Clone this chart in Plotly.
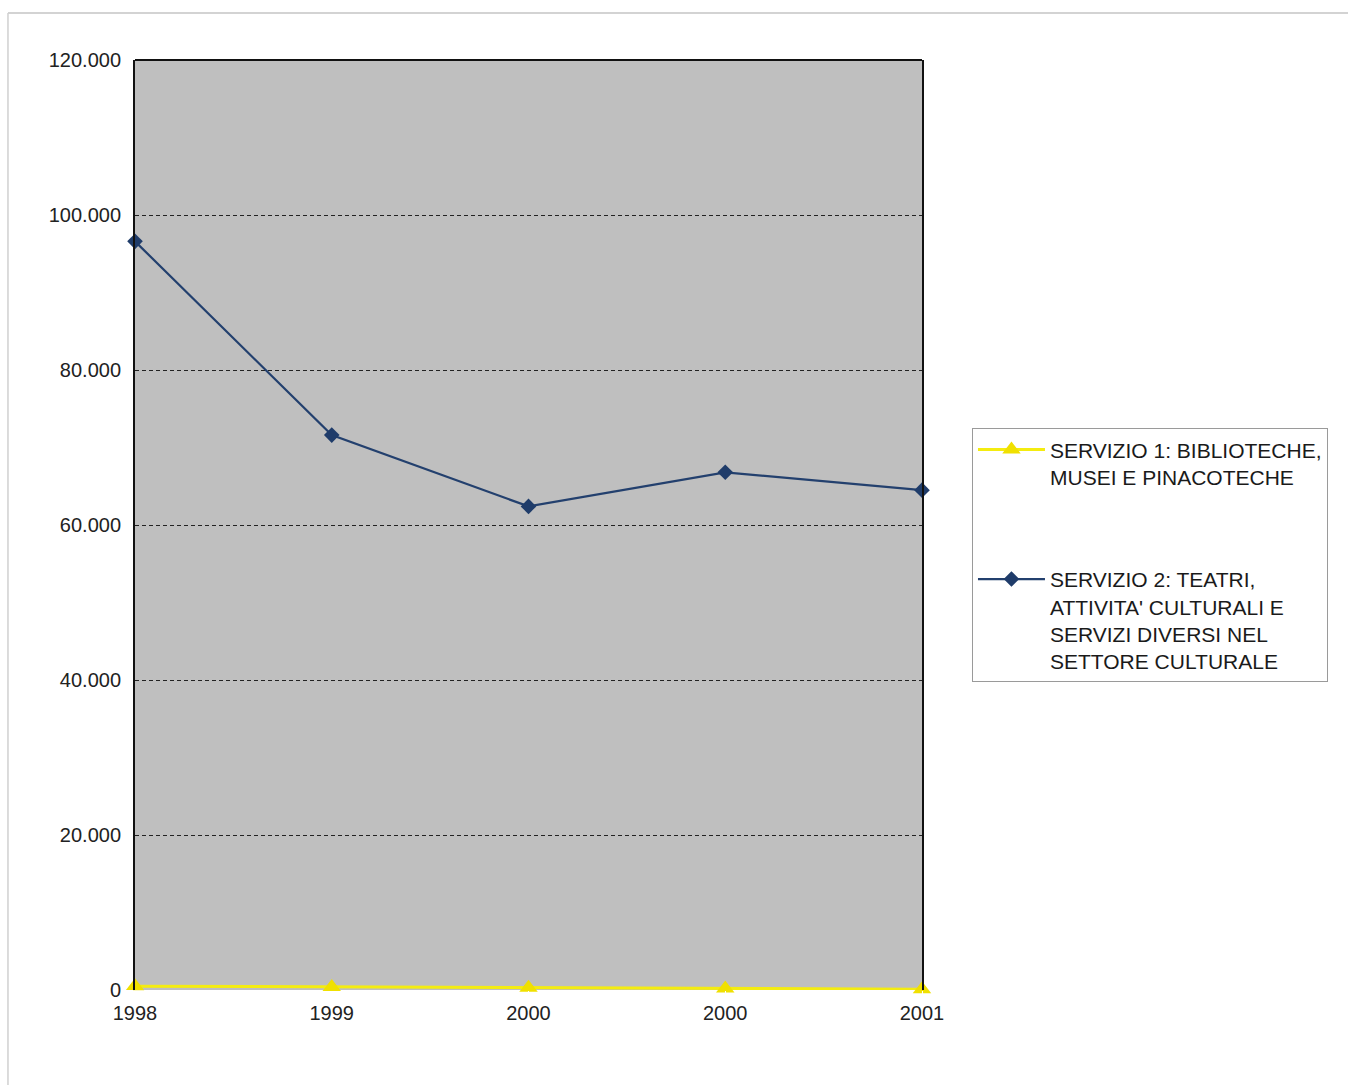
import plotly.graph_objects as go

# Category labels along the x axis (the year 2000 appears twice)
years = ["1998", "1999", "2000", "2000", "2001"]

# Series values
servizio_1 = [500, 400, 300, 200, 100]
servizio_2 = [96600, 71600, 62400, 66800, 64500]

# Legend labels
name_1 = "SERVIZIO 1: BIBLIOTECHE,<br>MUSEI E PINACOTECHE"
name_2 = "SERVIZIO 2: TEATRI,<br>ATTIVITA' CULTURALI E<br>SERVIZI DIVERSI NEL<br>SETTORE CULTURALE"

y_ticks = [0, 20000, 40000, 60000, 80000, 100000, 120000]

positions = list(range(len(years)))

fig = go.Figure()
fig.add_trace(go.Scatter(
    x=positions, y=servizio_1, name=name_1, mode="lines+markers",
    line=dict(color="#f4ec10", width=3),
    marker=dict(symbol="triangle-up", size=16, color="#f0e000"),
    legendgroup="s1", cliponaxis=False,
))
fig.add_trace(go.Scatter(
    x=positions, y=servizio_2, name=name_2, mode="lines+markers",
    line=dict(color="#23406e", width=2.2),
    marker=dict(symbol="diamond", size=12, color="#1f3c6a"),
    legendgroup="s2", cliponaxis=False,
))

fig.update_layout(
    width=1348, height=1085,
    margin=dict(l=135, r=426, t=60, b=95),
    paper_bgcolor="white",
    plot_bgcolor="#bfbfbf",
    separators=",.",
    font=dict(family="Liberation Sans, Arial, sans-serif", size=20, color="#222222"),
    showlegend=True,
    legend=dict(
        x=1.0635, y=0.604, xanchor="left", yanchor="top",
        bgcolor="white", bordercolor="#9a9a9a", borderwidth=1,
        font=dict(size=21, color="#1a1a1a"),
        tracegroupgap=72, itemwidth=67, valign="top",
    ),
    xaxis=dict(
        range=[0, 4], tickmode="array", tickvals=positions, ticktext=years,
        showgrid=False, zeroline=False, showline=False,
        ticks="outside", ticklen=5, tickcolor="white",
        tickfont=dict(size=20, color="#222222"),
    ),
    yaxis=dict(
        range=[0, 120000], tickmode="array", tickvals=y_ticks,
        tickformat=",d",
        showgrid=True, gridcolor="#222222", gridwidth=1, griddash="4px,3px",
        zeroline=False,
        showline=True, linecolor="#111111", linewidth=2, mirror=True,
        ticks="outside", ticklen=8, tickcolor="white",
        tickfont=dict(size=20, color="#222222"),
    ),
)

# top edge of the plot frame
fig.add_shape(type="line", xref="paper", yref="paper",
              x0=0, x1=1, y0=1, y1=1,
              line=dict(color="#111111", width=2), layer="below")

# faint outer frame of the chart sheet
fig.add_shape(type="line", xref="paper", yref="paper",
              x0=-0.1614, x1=1.55, y0=1.0505, y1=1.0505,
              line=dict(color="#c4c4c4", width=1.5))
fig.add_shape(type="line", xref="paper", yref="paper",
              x0=-0.1614, x1=-0.1614, y0=-0.11, y1=1.0505,
              line=dict(color="#d0d0d0", width=1.5))

fig.write_html("out.html")
